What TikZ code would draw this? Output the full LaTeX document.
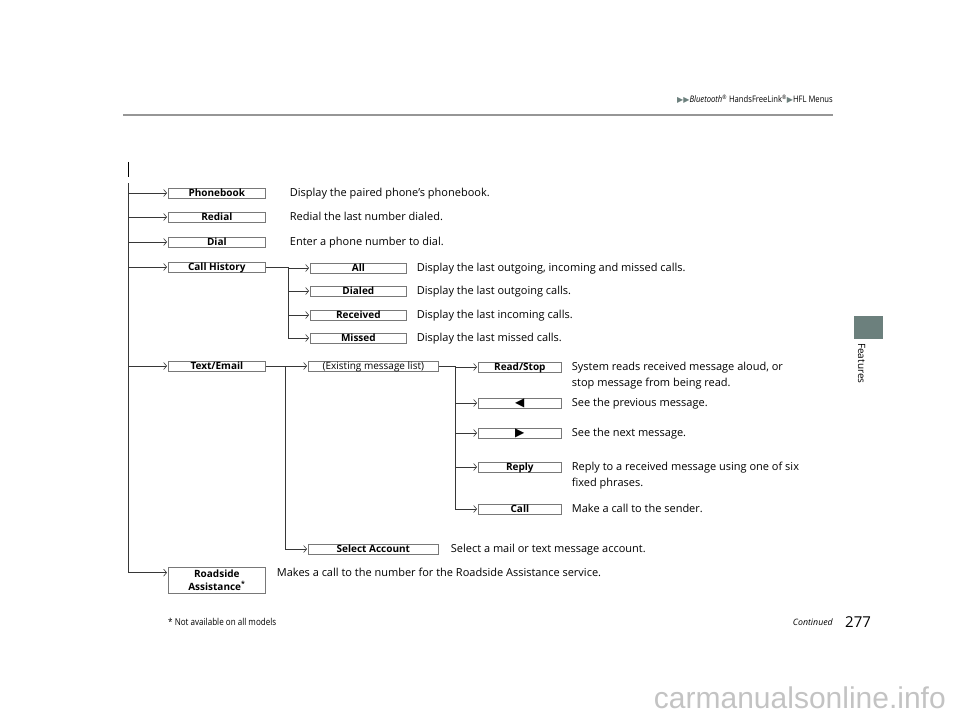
\documentclass[tikz,border=0pt]{standalone}
\usepackage{fontspec}
\setmainfont{Open Sans}
\newfontfamily\symfont{DejaVu Sans}
\newfontfamily\markfont{Liberation Sans}
\newfontfamily\narrowfont[FakeStretch=0.85]{Open Sans}
\usetikzlibrary{positioning,arrows.meta}
\definecolor{mLine}{RGB}{55,55,55}
\definecolor{mBox}{RGB}{120,120,120}
\definecolor{mTab}{RGB}{108,128,125}
\definecolor{mRule}{RGB}{150,150,150}
\definecolor{mMark}{RGB}{195,195,195}
\tikzset{
  btn/.style={rectangle, draw=mBox, fill=white, line width=0.7pt,
              minimum height=10pt, inner sep=0pt, anchor=west,
              text height=8pt, text depth=1pt,
              font=\fontsize{10}{11}\selectfont\bfseries},
  wbtn/.style={btn, minimum width=97pt},
  sbtn/.style={btn, minimum width=96pt},
  lbtn/.style={btn, minimum width=130pt},
  mbtn/.style={btn, minimum width=83pt},
  desc/.style={inner sep=0pt, anchor=base west,
               font=\fontsize{11}{16}\selectfont},
  flow/.style={-{Straight Barb[length=3pt,width=7pt]}, draw=mLine,
               line width=0.6pt, shorten >=1pt},
  link/.style={draw=mLine, line width=0.6pt},
}
\newcommand{\Btn}[4][wbtn]{%
  \node[#1] (#2) at (#3) {#4};}
\newcommand{\Desc}[3]{% {box}{gap}{text}
  \node[desc, right=#2 of #1.base east, anchor=base west] (#1d)
    {\begin{tabular}[t]{@{}l@{}}#3\end{tabular}};}

\begin{document}
\begin{tikzpicture}[x=1pt, y=-1pt]
  \useasboundingbox (0,0) rectangle (960,722);
  % page header
  \node[anchor=base east, inner sep=0pt, font=\narrowfont\fontsize{9}{10}\selectfont] (hdr) at (833,103)
    {{\symfont\color{mTab}\fontsize{8}{8}\selectfont ▶▶}\textit{Bluetooth}\textsuperscript{®} HandsFreeLink\textsuperscript{®}{\symfont\color{mTab}\fontsize{8}{8}\selectfont ▶}HFL Menus};
  \draw[mRule, line width=1.4pt] (123,115) -- (833,115);
  \draw[black, line width=0.8pt] (128,162) -- (128,177);
  % first level
  \Btn{pb}{168,193}{Phonebook}
  \Btn{rd}{168,217}{Redial}
  \Btn{dl}{168,242}{Dial}
  \Btn{ch}{168,267}{Call History}
  \Btn{te}{168,366}{Text/Email}
  \Btn[wbtn, minimum height=26pt, align=center, text height=, text depth=,
       font=\fontsize{10}{13}\selectfont\bfseries]{rsa}{168,580}{Roadside\\Assistance\textsuperscript{*}}
  \Desc{pb}{24pt}{Display the paired phone’s phonebook.}
  \Desc{rd}{24pt}{Redial the last number dialed.}
  \Desc{dl}{24pt}{Enter a phone number to dial.}
  \node[desc, right=11pt of rsa.north east, anchor=west, yshift=-6pt] (rsad)
    {Makes a call to the number for the Roadside Assistance service.};
  % call history
  \Btn[sbtn]{all}{310,268}{All}
  \Btn[sbtn]{dia}{310,291}{Dialed}
  \Btn[sbtn]{rec}{310,315}{Received}
  \Btn[sbtn]{mis}{310,338}{Missed}
  \Desc{all}{10pt}{Display the last outgoing, incoming and missed calls.}
  \Desc{dia}{10pt}{Display the last outgoing calls.}
  \Desc{rec}{10pt}{Display the last incoming calls.}
  \Desc{mis}{10pt}{Display the last missed calls.}
  % text / email
  \Btn[lbtn]{eml}{308,366}{\mdseries(Existing message list)}
  \Btn[lbtn]{sel}{308,549}{Select Account}
  \Desc{sel}{12pt}{Select a mail or text message account.}
  \Btn[mbtn]{rs}{478,367}{Read/Stop}
  \Btn[mbtn]{prv}{478,403}{\symfont\fontsize{12}{12}\selectfont ◀}
  \Btn[mbtn]{nxt}{478,433}{\symfont\fontsize{12}{12}\selectfont ▶}
  \Btn[mbtn]{rpl}{478,467}{Reply}
  \Btn[mbtn]{cl}{478,509}{Call}
  \Desc{rs}{10pt}{System reads received message aloud, or\\stop message from being read.}
  \Desc{prv}{10pt}{See the previous message.}
  \Desc{nxt}{10pt}{See the next message.}
  \Desc{rpl}{10pt}{Reply to a received message using one of six\\fixed phrases.}
  \Desc{cl}{10pt}{Make a call to the sender.}
  % trunk and branches
  \coordinate (top) at (128,183);
  \coordinate (chj) at (288,267);
  \coordinate (tej) at (285,366);
  \coordinate (emj) at (455,366);
  \foreach \b in {pb,rd,dl,ch,te}
    \draw[flow] (top |- \b.west) -- (\b.west);
  \draw[flow] (top) |- ([yshift=-6pt]rsa.north west);
  \draw[link] (ch.east) -- (chj);
  \foreach \b in {all,dia,rec}
    \draw[flow] (chj |- \b.west) -- (\b.west);
  \draw[flow] (chj) |- (mis.west);
  \draw[link] (te.east) -- (tej);
  \draw[flow] (tej) -- (eml.west);
  \draw[flow] (tej) |- (sel.west);
  \draw[link] (eml.east) -- (emj);
  \foreach \b in {rs,prv,nxt,rpl}
    \draw[flow] (emj |- \b.west) -- (\b.west);
  \draw[flow] (emj) |- (cl.west);
  % side tab and footer
  \fill[mTab] (854,316) rectangle (883,339);
  \node[rotate=-90, anchor=base west, inner sep=0pt, font=\fontsize{10}{11}\selectfont] (tab) at (858,343) {Features};
  \node[anchor=base west, inner sep=0pt, font=\narrowfont\fontsize{9.5}{11}\selectfont] (note) at (168,625) {* Not available on all models};
  \node[anchor=base east, inner sep=0pt, font=\fontsize{8.8}{10}\selectfont\itshape] (cont) at (833,625) {Continued};
  \node[anchor=base west, inner sep=0pt, font=\fontsize{15}{17}\selectfont] (pg) at (845,627) {277};
  \node[anchor=base east, inner sep=0pt, text=mMark, font=\markfont\fontsize{30}{32}\selectfont] (wm) at (946,708) {carmanualsonline.info};
\end{tikzpicture}
\end{document}
